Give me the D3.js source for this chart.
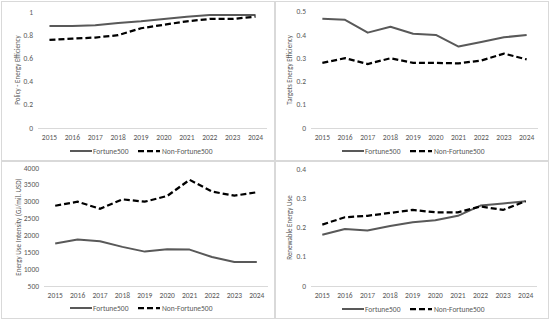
<!DOCTYPE html>
<html><head><meta charset="utf-8">
<script src="https://cdn.jsdelivr.net/npm/d3@7"></script>
<style>body{margin:0;background:#fff}svg{display:block;font-family:Calibri,"Liberation Sans Narrow","Liberation Sans",Arial,sans-serif}</style>
</head><body><svg id="c" width="550" height="323"></svg>
<script>
const years = ["2015","2016","2017","2018","2019","2020","2021","2022","2023","2024"];
const seriesNames = ["Fortune500","Non-Fortune500"];
const policyF = [0.88,0.88,0.885,0.905,0.92,0.94,0.96,0.975,0.975,0.975];
const policyN = [0.76,0.77,0.78,0.80,0.86,0.89,0.92,0.94,0.94,0.96];
const targetsF = [0.47,0.465,0.41,0.435,0.405,0.40,0.35,0.37,0.39,0.40];
const targetsN = [0.28,0.30,0.275,0.30,0.28,0.28,0.278,0.29,0.32,0.295];
const intensityF = [1760,1880,1830,1660,1520,1590,1580,1360,1210,1210];
const intensityN = [2880,3000,2790,3070,3000,3170,3650,3300,3180,3280];
const renewF = [0.175,0.195,0.19,0.205,0.218,0.225,0.24,0.275,0.282,0.29];
const renewN = [0.21,0.235,0.24,0.25,0.26,0.252,0.252,0.272,0.26,0.29];
const ticks1 = [0,0.2,0.4,0.6,0.8,1];
const ticks2 = [0,0.1,0.2,0.3,0.4,0.5];
const ticks3 = [500,1000,1500,2000,2500,3000,3500,4000];
const ticks4 = [0,0.1,0.2,0.3,0.4];
const titles = ["Policy - Energy Efficiency","Targets Energy Efficiency","Energy Use Intensity (GJ/mil. USD)","Renewable Energy Use"];

const panels = [
 {box:[1.5,1.5,273,159], f:policyF, n:policyN, ticks:ticks1, dom:[0,1], xr:[38,267], yr:[128,12], title:titles[0], tx:18, fmt:d=>d3.format("~g")(d), ly:151, lx:70},
 {box:[275.5,1.5,273,159], f:targetsF, n:targetsN, ticks:ticks2, dom:[0,0.5], xr:[311,538], yr:[128,11.7], title:titles[1], tx:290, fmt:d=>d3.format("~g")(d), ly:151, lx:342},
 {box:[1.5,161.5,273,157], f:intensityF, n:intensityN, ticks:ticks3, dom:[500,4000], xr:[44,268], yr:[286,168], title:titles[2], tx:19, fmt:d=>d, ly:308, lx:70},
 {box:[275.5,161.5,273,157], f:renewF, n:renewN, ticks:ticks4, dom:[0,0.4], xr:[311,537], yr:[286,169], title:titles[3], tx:290, fmt:d=>d3.format("~g")(d), ly:309, lx:342}
];
const svg = d3.select("#c");
const txt = "#595959";
panels.forEach(p=>{
  svg.append("rect").attr("x",p.box[0]).attr("y",p.box[1]).attr("width",p.box[2]).attr("height",p.box[3])
    .attr("fill","#fff").attr("stroke","#d9d9d9").attr("stroke-width",1);
  const x = d3.scalePoint().domain(years).range(p.xr).padding(0.5);
  const y = d3.scaleLinear().domain(p.dom).range(p.yr);
  const g = svg.append("g");
  // y tick labels
  g.selectAll(".yt").data(p.ticks).join("text")
    .attr("x",p.xr[0]-5).attr("y",d=>y(d)).attr("dy","0.35em").attr("text-anchor","end")
    .attr("font-size",7.5).attr("fill",txt).text(p.fmt);
  // x axis line
  g.append("line").attr("x1",p.xr[0]).attr("x2",p.xr[1]).attr("y1",y(p.dom[0])+0.5).attr("y2",y(p.dom[0])+0.5)
    .attr("stroke","#d9d9d9").attr("stroke-width",1);
  g.selectAll(".xt").data(years).join("text")
    .attr("x",d=>x(d)).attr("y",y(p.dom[0])+12).attr("text-anchor","middle")
    .attr("font-size",7.5).attr("fill",txt).text(d=>d);
  // y title
  const cy = (p.yr[0]+p.yr[1])/2;
  g.append("text").attr("transform",`translate(${p.tx},${cy}) rotate(-90)`).attr("text-anchor","middle")
    .attr("dy","0.35em").attr("font-size",7).attr("fill",txt).text(p.title);
  const line = d3.line().x((d,i)=>x(years[i])).y(d=>y(d));
  g.append("path").attr("d",line(p.f)).attr("fill","none").attr("stroke","#595959").attr("stroke-width",2).attr("stroke-linejoin","round");
  g.append("path").attr("d",line(p.n)).attr("fill","none").attr("stroke","#000").attr("stroke-width",2.25).attr("stroke-dasharray","6,3");
  // legend
  const lg = g.append("g").attr("transform",`translate(${p.lx},${p.ly})`);
  lg.append("line").attr("x1",0).attr("x2",22).attr("y1",0).attr("y2",0).attr("stroke","#595959").attr("stroke-width",2);
  lg.append("text").attr("x",23).attr("y",0).attr("dy","0.35em").attr("font-size",7.5).attr("fill",txt).text(seriesNames[0]);
  lg.append("line").attr("x1",68).attr("x2",90).attr("y1",0).attr("y2",0).attr("stroke","#000").attr("stroke-width",2.25).attr("stroke-dasharray","6,3");
  lg.append("text").attr("x",92).attr("y",0).attr("dy","0.35em").attr("font-size",7.5).attr("fill",txt).text(seriesNames[1]);
});
</script></body></html>
